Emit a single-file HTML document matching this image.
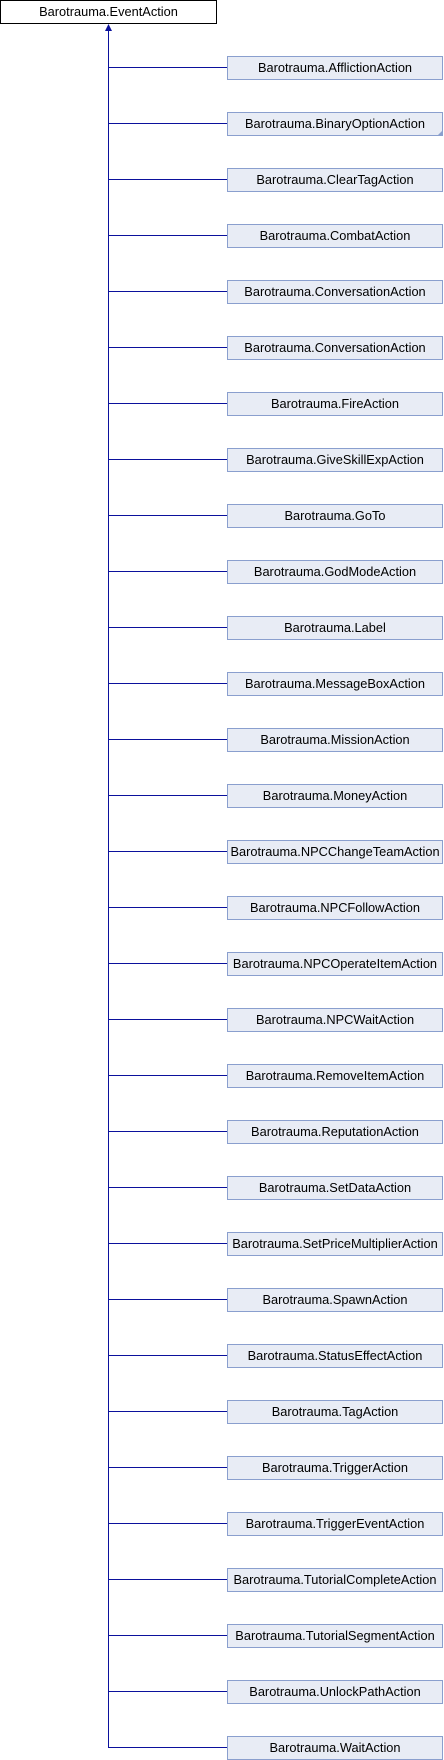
<!DOCTYPE html>
<html><head><meta charset="utf-8"><style>
html,body{margin:0;padding:0;background:#fff;}
svg{display:block;}
text{font-family:"Liberation Sans",sans-serif;font-size:12.8px;fill:#000;}
</style></head><body>
<svg width="444" height="1760" xmlns="http://www.w3.org/2000/svg">
<rect x="0.5" y="0.5" width="216" height="23" fill="#fff" stroke="#000"/>
<text x="108.5" y="16" text-anchor="middle">Barotrauma.EventAction</text>
<line x1="108.5" y1="30" x2="108.5" y2="1748" stroke="#0b119c" stroke-width="1"/>
<polygon points="108.5,24 105,31 112,31" fill="#0b119c"/>
<g id="kids"></g>
</svg>
<script>
var names=["AfflictionAction","BinaryOptionAction","ClearTagAction","CombatAction","ConversationAction","ConversationAction","FireAction","GiveSkillExpAction","GoTo","GodModeAction","Label","MessageBoxAction","MissionAction","MoneyAction","NPCChangeTeamAction","NPCFollowAction","NPCOperateItemAction","NPCWaitAction","RemoveItemAction","ReputationAction","SetDataAction","SetPriceMultiplierAction","SpawnAction","StatusEffectAction","TagAction","TriggerAction","TriggerEventAction","TutorialCompleteAction","TutorialSegmentAction","UnlockPathAction","WaitAction"];
var g=document.getElementById('kids'),s='';
for(var i=0;i<names.length;i++){var y=56+56*i;
s+='<line x1="108.5" y1="'+(y+11.5)+'" x2="227" y2="'+(y+11.5)+'" stroke="#0b119c" stroke-width="1"/>';
s+='<rect x="227.5" y="'+(y+0.5)+'" width="215" height="23" fill="#e8ecf5" stroke="#8a9fce"/>';
s+='<text x="335" y="'+(y+16)+'" text-anchor="middle">Barotrauma.'+names[i]+'</text>';
if(i==1)s+='<polygon points="443,'+(y+18)+' 443,'+(y+24)+' 437,'+(y+24)+'" fill="#8a9fce"/>';}
g.innerHTML=s;
</script>
</body></html>
